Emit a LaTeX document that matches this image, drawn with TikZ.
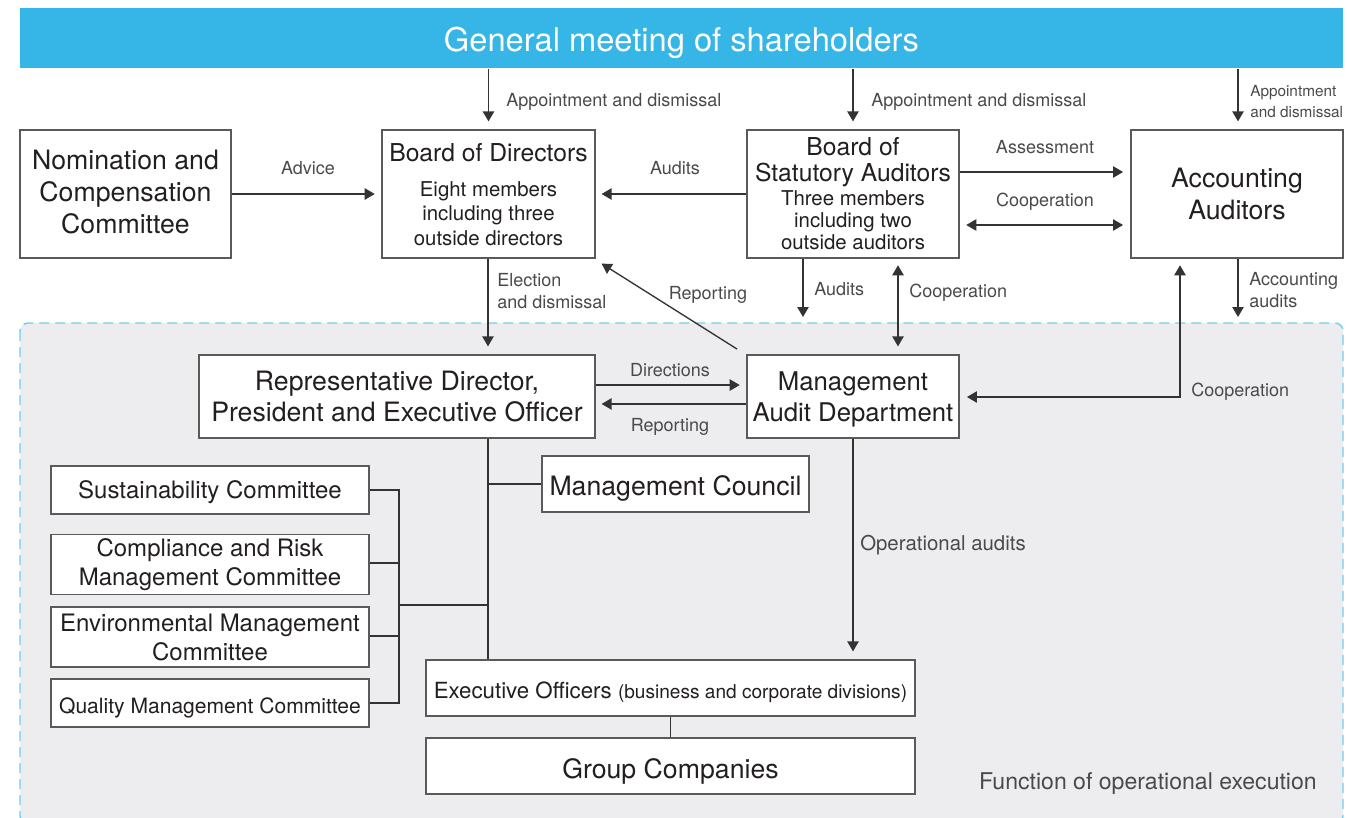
\documentclass[tikz,border=0pt]{standalone}
\usepackage{fontspec}
\setmainfont{TeX Gyre Heros}
\usetikzlibrary{arrows.meta}

\definecolor{barblue}{HTML}{35B6E6}
\definecolor{regionfill}{HTML}{EDEDEF}
\definecolor{regionline}{HTML}{72CDEF}
\definecolor{boxline}{HTML}{5A5A5A}
\definecolor{inktext}{HTML}{231F20}
\definecolor{labeltext}{HTML}{4A4A4A}
\definecolor{arrowline}{HTML}{333333}

\newcommand{\barfont}{\fontsize{24.5}{29}\selectfont}
\newcommand{\bigfont}{\fontsize{20}{24}\selectfont}
\newcommand{\ttlfont}{\fontsize{18.5}{19.5}\selectfont}
\newcommand{\subfont}{\fontsize{15.3}{18.4}\selectfont}
\newcommand{\cmtfont}{\fontsize{18}{21.75}\selectfont}
\newcommand{\lblfont}{\fontsize{13.5}{16.5}\selectfont}
\newcommand{\smlfont}{\fontsize{11.5}{15.75}\selectfont}

\begin{document}
\begin{tikzpicture}[x=0.75pt, y=-0.75pt,
		box/.style={draw=boxline, line width=0.9pt, fill=white, inner sep=0pt, align=center, text=inktext, font=\bigfont},
		oneline/.style={text height=#1, text depth=0pt},
		txt/.style={inner sep=0pt, align=center, text=inktext},
		lbl/.style={inner sep=0pt, align=left, text=labeltext, font=\lblfont},
		arr/.style={draw=arrowline, line width=1pt, -{Triangle[length=7.5pt,width=8.5pt]}},
		dbl/.style={draw=arrowline, line width=1pt, {Triangle[length=7.5pt,width=8.5pt]}-{Triangle[length=7.5pt,width=8.5pt]}},
		link/.style={draw=arrowline, line width=0.9pt}]
		\clip (0,0) rectangle (1347,818);

		% function of operational execution
		\draw[draw=regionline, fill=regionfill, line width=1.1pt, dash pattern=on 7.5pt off 4.5pt, rounded corners=6pt] (20,323) rectangle (1343,824);

		\node[box, oneline=20.6pt, draw=none, fill=barblue, text=white, font=\barfont, minimum width=992.25pt, minimum height=45pt] (gms) at (681.5,38) {General meeting of shareholders};

		\node[box, minimum width=158.25pt, minimum height=96pt] (nom) at (125.5,194) {};
		\node[txt, font=\bigfont] (nomt) at (125.5,192.5) {Nomination and\\Compensation\\Committee};
		\node[box, minimum width=159.75pt, minimum height=96pt] (bod) at (488.5,194) {};
		\node[txt, font=\ttlfont] (bodt) at (488.5,153) {Board of Directors};
		\node[txt, font=\subfont] (bods) at (488.5,213.5) {Eight members\\including three\\outside directors};
		\node[box, minimum width=159pt, minimum height=96pt] (bsa) at (853,194) {};
		\node[txt, font=\ttlfont] (bsat) at (853,162) {Board of\\Statutory Auditors};
		\node[txt, font=\fontsize{15.3}{16.5}\selectfont] (bsas) at (853,220) {Three members\\including two\\outside auditors};
		\node[box, minimum width=159pt, minimum height=96pt] (acc) at (1237,194) {Accounting\\Auditors};

		\node[box, font=\fontsize{20}{23.25}\selectfont, minimum width=297pt, minimum height=62.25pt] (rep) at (397,396.5) {Representative Director,\\President and Executive Officer};
		\node[box, minimum width=159pt, minimum height=62.25pt] (mad) at (853,396.5) {};
		\node[txt, font=\fontsize{19.3}{23.25}\selectfont] (madt) at (853,399) {Management\\Audit Department};
		\node[box, oneline=17.4pt, minimum width=200.25pt, minimum height=42pt] (mc) at (675.5,484) {Management Council};

		\node[box, oneline=13pt, font=\cmtfont, minimum width=238.5pt, minimum height=36pt] (sus) at (210,490) {Sustainability Committee};
		\node[box, font=\cmtfont, minimum width=238.5pt, minimum height=45pt] (cmp) at (210,564.5) {Compliance and Risk\\Management Committee};
		\node[box, font=\cmtfont, minimum width=238.5pt, minimum height=45pt] (env) at (210,637) {Environmental Management\\Committee};
		\node[box, oneline=15.9pt, font=\fontsize{15.8}{19}\selectfont, minimum width=238.5pt, minimum height=36pt] (qual) at (210,703) {Quality Management Committee};

		\node[box, oneline=15pt, font=\fontsize{16.7}{20}\selectfont, minimum width=366.75pt, minimum height=42pt] (exo) at (670.5,688) {Executive Officers {\fontsize{14.3}{17}\selectfont (business and corporate divisions)}};
		\node[box, oneline=18.9pt, minimum width=366.75pt, minimum height=42pt] (grp) at (670.5,766) {Group Companies};

		\coordinate (audend) at (803,317);
		\coordinate (coopx) at (898,0);
		\coordinate (accend) at (1238,317);
		\coordinate (coopc) at (1180,397);
		\coordinate (trunk) at (488,0);
		\coordinate (bus) at (399,605);

		% arrows
		\draw[arr, shorten >=6pt] (gms.south -| bod) -- (bod.north);
		\draw[arr, shorten >=6pt] (gms.south -| bsa) -- (bsa.north);
		\draw[arr, shorten >=6pt] (gms.south -| accend) -- (acc.north -| accend);
		\draw[arr, shorten >=5pt] (nom.east) -- (bod.west);
		\draw[arr, shorten >=4.5pt] (bsa.west) -- (bod.east);
		\draw[arr, shorten >=5.5pt] ([yshift=16.5pt]bsa.east) -- ([yshift=16.5pt]acc.west);
		\draw[dbl, shorten <=5pt, shorten >=5.5pt] ([yshift=-23.25pt]bsa.east) -- ([yshift=-23.25pt]acc.west);
		\draw[arr, shorten >=6pt] (bod.south -| trunk) -- (rep.north -| trunk);
		\draw[arr] ([xshift=-7pt,yshift=4pt]mad.north west) -- ([xshift=4.5pt,yshift=-3.75pt]bod.south east);
		\draw[arr] (bsa.south -| audend) -- (audend);
		\draw[dbl, shorten <=5pt, shorten >=6pt] (bsa.south -| coopx) -- (mad.north -| coopx);
		\draw[arr] (acc.south -| accend) -- (accend);
		\draw[dbl, shorten <=5pt, shorten >=5.5pt] (acc.south -| coopc) -- (coopc) -- (mad.east |- coopc);
		\draw[arr, shorten >=5pt] ([yshift=8.6pt]rep.east) -- ([yshift=8.6pt]mad.west);
		\draw[arr, shorten >=4.5pt] ([yshift=-5.6pt]mad.west) -- ([yshift=-5.6pt]rep.east);
		\draw[arr, shorten >=6pt] (mad.south) -- (exo.north -| mad.south);

		% tree
		\draw[link] (rep.south -| trunk) -- (exo.north -| trunk);
		\draw[link] (mc.west -| trunk) -- (mc.west);
		\draw[link] (sus.east) -- (sus.east -| bus) -- (qual.east -| bus) -- (qual.east);
		\draw[link] (cmp.east |- 0,563) -- (bus |- 0,563);
		\draw[link] (env.east |- 0,636) -- (bus |- 0,636);
		\draw[link] (bus) -- (bus -| trunk);
		\draw[link] (exo.south) -- (grp.north);

		% labels
		\node[lbl, anchor=west] (lapp1) at (506,102) {Appointment and dismissal};
		\node[lbl, anchor=west] (lapp2) at (871,102) {Appointment and dismissal};
		\node[lbl, anchor=west, font=\smlfont] (lapp3) at (1250,101.5) {Appointment\\and dismissal};
		\node[lbl] (ladv) at (308,168) {Advice};
		\node[lbl] (laud1) at (675,168) {Audits};
		\node[lbl] (lass) at (1045,147) {Assessment};
		\node[lbl] (lcoop1) at (1045,202) {Cooperation};
		\node[lbl, anchor=west] (lele) at (497,291) {Election\\and dismissal};
		\node[lbl] (lrep1) at (708,295) {Reporting};
		\node[lbl, anchor=west] (laud2) at (814,289) {Audits};
		\node[lbl, anchor=west] (lcoop2) at (909,293) {Cooperation};
		\node[lbl, anchor=west] (lacc) at (1249,290) {Accounting\\audits};
		\node[lbl, anchor=west] (lcoop3) at (1191,392) {Cooperation};
		\node[lbl] (ldir) at (670,370) {Directions};
		\node[lbl] (lrep2) at (670,427) {Reporting};
		\node[lbl, anchor=west, font=\fontsize{15.3}{18}\selectfont] (lops) at (860,545) {Operational audits};
		\node[lbl, anchor=east, font=\fontsize{17.3}{20}\selectfont] (lfun) at (1317,784) {Function of operational execution};
	\end{tikzpicture}
\end{document}
